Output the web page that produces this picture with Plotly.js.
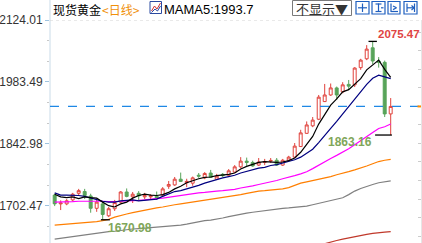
<!DOCTYPE html>
<html><head><meta charset="utf-8">
<script src="https://cdn.plot.ly/plotly-3.0.1.min.js"></script>
<style>html,body{margin:0;padding:0;background:#fff;}#c{width:422px;height:243px;}</style>
</head><body><div id="c"></div>
<script>
const dates = ["2020-05-26","2020-05-27","2020-05-28","2020-05-29","2020-06-01","2020-06-02","2020-06-03","2020-06-04","2020-06-05","2020-06-08","2020-06-09","2020-06-10","2020-06-11","2020-06-12","2020-06-15","2020-06-16","2020-06-17","2020-06-18","2020-06-19","2020-06-22","2020-06-23","2020-06-24","2020-06-25","2020-06-26","2020-06-29","2020-06-30","2020-07-01","2020-07-02","2020-07-03","2020-07-06","2020-07-07","2020-07-08","2020-07-09","2020-07-10","2020-07-13","2020-07-14","2020-07-15","2020-07-16","2020-07-17","2020-07-20","2020-07-21","2020-07-22","2020-07-23","2020-07-24","2020-07-27","2020-07-28","2020-07-29","2020-07-30","2020-07-31","2020-08-03","2020-08-04","2020-08-05","2020-08-06","2020-08-07","2020-08-10","2020-08-11","2020-08-12"];
const open  = [1727,1707,1707,1716,1731,1735,1725,1697,1707,1680,1696,1711,1734,1723,1731,1723,1723,1724,1727,1747,1750,1763,1755,1754,1772,1766,1777,1763,1774,1772,1779,1791,1804,1801,1795,1801,1804,1806,1795,1806,1813,1837,1867,1884,1899,1939,1954,1970,1961,1978,1977,2016,2036,2061,2031,2028,1911];
const high  = [1730,1715,1718,1732,1741,1741,1730,1716,1711,1700,1716,1736,1742,1734,1736,1732,1729,1735,1745,1759,1768,1778,1764,1769,1777,1779,1784,1775,1777,1786,1795,1813,1812,1805,1811,1809,1811,1811,1809,1816,1845,1875,1894,1904,1954,1979,1980,1973,1983,1988,2017,2036,2067,2075.47,2040,2032,1947];
const low   = [1702,1693,1704,1713,1725,1718,1687,1689,1670.98,1677,1691,1709,1722,1709,1716,1718,1716,1716,1725,1741,1748,1757,1745,1748,1766,1763,1766,1761,1768,1770,1777,1788,1793,1791,1793,1795,1800,1793,1793,1804,1811,1836,1866,1881,1897,1938,1952,1943,1958,1965,1972,2011,2033,2024,2016,1904,1863.16];
const close = [1707,1709,1714,1729,1737,1726,1697,1711,1683,1696,1710,1734,1724,1729,1725,1726,1725,1720,1741,1751,1763,1758,1758,1766,1770,1776,1767,1770,1771,1782,1791,1804,1801,1793,1802,1803,1805.5,1795,1806,1813,1838,1868,1886,1897,1949,1954,1970,1954,1977,1974,2015,2033,2058,2031,2028,1911,1928];
const ma5   = [1729,1723,1721,1723,1719,1723,1721,1720,1711,1703,1700,1707,1711,1720,1726,1729,1727,1726,1728,1733,1741,1747,1755,1760,1764,1767,1768,1771,1772,1774,1777,1786,1792,1797,1801,1803,1802,1801,1802,1805,1811,1824,1842,1860,1888,1911,1931,1945,1961,1966,1978,1991,2011,2022,2033,2012,1993.7];
const ma10  = [1732,1727,1727,1727,1726,1724,1720,1716,1713,1711,1711,1714,1715,1716,1714,1715,1717,1718,1724,1730,1735,1737,1741,1744,1749,1754,1758,1763,1766,1769,1772,1777,1781,1784,1788,1790,1794,1796,1800,1803,1807,1813,1822,1831,1846,1861,1878,1894,1911,1927,1944,1961,1978,1992,1999,1995,1991];
const ma30  = [1711,1711,1712,1712,1713,1713,1714,1714,1713,1712,1712,1713,1714,1714,1715,1716,1718,1719,1720,1722,1724,1727,1729,1731,1732,1733,1735,1736,1737,1738,1740,1743,1745,1748,1751,1754,1756,1760,1764,1767,1771,1775,1780,1787,1795,1802,1810,1817,1824,1832,1841,1851,1861,1869,1878,1882,1888];
const ma60  = [1659,1660,1661,1662,1664,1665,1666,1667,1669,1672,1677,1681,1684,1687,1690,1693,1696,1698,1700,1703,1705,1707,1709,1711,1714,1716,1718,1720,1722,1724,1726,1728,1731,1734,1736,1737,1738,1739,1741,1744,1749,1754,1757,1760,1762,1765,1769,1773,1776,1780,1784,1788,1793,1798,1803,1806,1808];
const ma120 = [1627,1629,1631,1633,1635,1637,1639,1641,1643,1644,1645,1647,1649,1650,1651,1652,1653,1655,1656,1657,1658,1659,1661,1664,1667,1669,1670,1672,1675,1678,1681,1684,1686,1688,1690,1692,1694,1696,1697,1698,1699,1700,1702,1705,1708,1711,1714,1717,1721,1728,1736,1742,1747,1751,1755,1757,1759];
const ma250 = [null,null,null,null,null,null,null,null,null,null,null,null,null,null,null,null,null,null,null,null,null,null,null,null,null,null,null,null,null,null,null,null,null,null,null,null,null,null,null,null,null,null,null,null,1613,1617,1621,1624,1627,1630,1632,1635,1638,1640,1642,1643,1644];
const yTickVals = [1702.47,1842.98,1983.49,2124.01];
const yTickText = ["1702.47","1842.98","1983.49","2124.01"];

const YMIN = 1618.3, YMAX = 2124.01;
const font = "Liberation Sans, Arial, sans-serif";
const cjk = "Noto Sans CJK SC, sans-serif";

const traces = [
  {type:'candlestick', x:dates, open:open, high:high, low:low, close:close,
   increasing:{line:{color:'#e0423c',width:1}, fillcolor:'#ffffff'},
   decreasing:{line:{color:'#58a45a',width:1}, fillcolor:'#58a45a'},
   whiskerwidth:0, hoverinfo:'none'},
  {type:'scatter', mode:'lines', x:dates, y:ma120, line:{color:'#808080',width:1.2}, hoverinfo:'none'},
  {type:'scatter', mode:'lines', x:dates, y:ma60, line:{color:'#ff7f00',width:1.2}, hoverinfo:'none'},
  {type:'scatter', mode:'lines', x:dates, y:ma30, line:{color:'#ff00ff',width:1.2}, hoverinfo:'none'},
  {type:'scatter', mode:'lines', x:dates, y:ma10, line:{color:'#000080',width:1.2}, hoverinfo:'none'},
  {type:'scatter', mode:'lines', x:dates, y:ma5, line:{color:'#000000',width:1.2}, hoverinfo:'none'},
  {type:'scatter', mode:'lines', x:dates, y:ma250, yaxis:'y2', line:{color:'#c0392b',width:1.2}, hoverinfo:'none', connectgaps:false}
];

let hiIdx = 0; for (let i=1;i<high.length;i++) if (high[i]>high[hiIdx]) hiIdx=i;
let loIdx = 0; for (let i=1;i<low.length;i++) if (low[i]<low[loIdx]) loIdx=i;
const lastIdx = close.length-1;

const L=50, R=1, T=20, B=0, W=422, H=243;
const px = q => (q-L)/(W-L-R);
const py = p => (H-B-p)/(H-T-B);

const shapes = [
  {type:'line', xref:'paper', yref:'paper', x0:0, x1:0, y0:0, y1:py(0), line:{color:'#c9dbe8',width:1}},
  {type:'line', xref:'paper', yref:'y', x0:0, x1:1, y0:YMAX, y1:YMAX, line:{color:'#d4d4d4',width:1,dash:'dot'}},
  {type:'line', xref:'paper', yref:'y', x0:0, x1:1, y0:close[lastIdx], y1:close[lastIdx], line:{color:'#1e88e5',width:1.2,dash:'dash'}},
  {type:'line', xref:'paper', yref:'y', x0:px(417.5), x1:1, y0:close[lastIdx], y1:close[lastIdx], line:{color:'#ff8c00',width:2}},
  {type:'line', xref:'x', yref:'y', x0:hiIdx-0.7, x1:hiIdx+0.7, y0:high[hiIdx], y1:high[hiIdx], line:{color:'#000',width:1.3}},
  {type:'line', xref:'x', yref:'y', x0:lastIdx-2.6, x1:lastIdx+0.2, y0:low[lastIdx], y1:low[lastIdx], line:{color:'#000',width:1.3}},
  {type:'line', xref:'x', yref:'y', x0:loIdx-0.3, x1:loIdx+1.2, y0:low[loIdx], y1:low[loIdx], line:{color:'#000',width:1.3}},
  {type:'rect', xref:'paper', yref:'paper', x0:px(150), x1:px(161.5), y0:py(13.5), y1:py(1.5), line:{color:'#2b4aa0',width:1}, fillcolor:'#ffffff'},
  {type:'path', xref:'paper', yref:'paper', path:`M ${px(151.5)},${py(11)} L ${px(154.5)},${py(6)} L ${px(157)},${py(9)} L ${px(160.5)},${py(3)}`, line:{color:'#d03030',width:1}},
  {type:'path', xref:'paper', yref:'paper', path:`M ${px(151.5)},${py(12.5)} L ${px(155)},${py(9)} L ${px(157.5)},${py(11)} L ${px(160.5)},${py(6)}`, line:{color:'#2b4aa0',width:1}},
  {type:'rect', xref:'paper', yref:'paper', x0:px(292.5), x1:px(351.5), y0:py(15.5), y1:py(0.5), line:{color:'#7a7a7a',width:1}, fillcolor:'#ffffff'}
];
const icons = [[356,369],[372,385],[388,400],[404,417]];
icons.forEach(([a,b])=>{
  shapes.push({type:'rect', xref:'paper', yref:'paper', x0:px(a), x1:px(b), y0:py(14), y1:py(1.5), line:{color:'#1f5fbf',width:1.2}, fillcolor:'#ffffff'});
});
const blue = {color:'#1f5fbf',width:1.2};
const seg = (x0,y0,x1,y1)=>({type:'line', xref:'paper', yref:'paper', x0:px(x0), x1:px(x1), y0:py(y0), y1:py(y1), line:blue});
shapes.push(seg(362.5,3.5,362.5,12), seg(358,7.8,367,7.8));
shapes.push(seg(378.5,3.5,378.5,12), seg(375.5,4,381.5,4), seg(375.5,11.5,381.5,11.5), seg(381,7.8,383.5,7.8));
shapes.push(seg(391,3.5,391,12), seg(391,11.5,398,11.5), seg(393,6,396.5,7.8), seg(396.5,7.8,393,9.6));
shapes.push(seg(407,3.5,407,12), seg(407,7.8,414,7.8), seg(411.5,5.5,414,7.8), seg(411.5,10,414,7.8), seg(414.5,3.5,414.5,12));

const annotations = [
  {xref:'paper', yref:'paper', x:px(51), y:py(9), xanchor:'left', yanchor:'middle', showarrow:false, text:'现货黄金', font:{family:cjk, size:12, color:'#000'}},
  {xref:'paper', yref:'paper', x:px(99.5), y:py(9), xanchor:'left', yanchor:'middle', showarrow:false, text:'&lt;日线&gt;', font:{family:cjk, size:12, color:'#f0900a'}},
  {xref:'paper', yref:'paper', x:px(162), y:py(9), xanchor:'left', yanchor:'middle', showarrow:false, text:'MAMA5:' + ma5[lastIdx], font:{family:font, size:13, color:'#000'}},
  {xref:'paper', yref:'paper', x:px(322), y:py(8), xanchor:'center', yanchor:'middle', showarrow:false, text:'不显示▼', font:{family:cjk, size:13, color:'#333'}},
  {xref:'x', yref:'y', x:hiIdx, y:high[hiIdx], xanchor:'left', yanchor:'middle', xshift:3, yshift:7, showarrow:false, text:'<b>'+high[hiIdx].toFixed(2)+'</b>', font:{family:font, size:11.5, color:'#e04444'}},
  {xref:'x', yref:'y', x:lastIdx, y:low[lastIdx], xanchor:'right', yanchor:'middle', xshift:-17, yshift:-7, showarrow:false, text:'<b>'+low[lastIdx].toFixed(2)+'</b>', font:{family:font, size:12, color:'#7fa65a'}},
  {xref:'x', yref:'y', x:loIdx, y:low[loIdx], xanchor:'left', yanchor:'middle', xshift:3, yshift:-8, showarrow:false, text:'<b>'+low[loIdx].toFixed(2)+'</b>', font:{family:font, size:12, color:'#7fa65a'}}
];

const layout = {
  width:W, height:H, margin:{l:L,r:R,t:T,b:B,pad:0},
  paper_bgcolor:'#fff', plot_bgcolor:'#fff', showlegend:false, hovermode:false,
  xaxis:{type:'category', range:[-0.78,61.05], visible:false, rangeslider:{visible:false}, fixedrange:true},
  yaxis:{range:[YMIN,YMAX], tickmode:'array', tickvals:yTickVals, ticktext:yTickText,
         ticks:'outside', ticklen:4, tickcolor:'#9ec3e0', tickwidth:1, showgrid:false, zeroline:false, showline:false,
         tickfont:{family:font, size:12, color:'#333'},
         minor:{ticks:'outside', ticklen:2, tickcolor:'#c8c8c8', tick0:1702.47, dtick:46.837, showgrid:false}},
  yaxis2:{range:[YMIN,YMAX], overlaying:'y', side:'right', showticklabels:false, ticks:'inside', ticklen:3,
          tickcolor:'#cccccc', tick0:1928, dtick:42, showgrid:false, zeroline:false, showline:true, linecolor:'#e6e6e6'},
  shapes:shapes, annotations:annotations
};
Plotly.newPlot('c', traces, layout, {staticPlot:true, displayModeBar:false});
</script></body></html>
